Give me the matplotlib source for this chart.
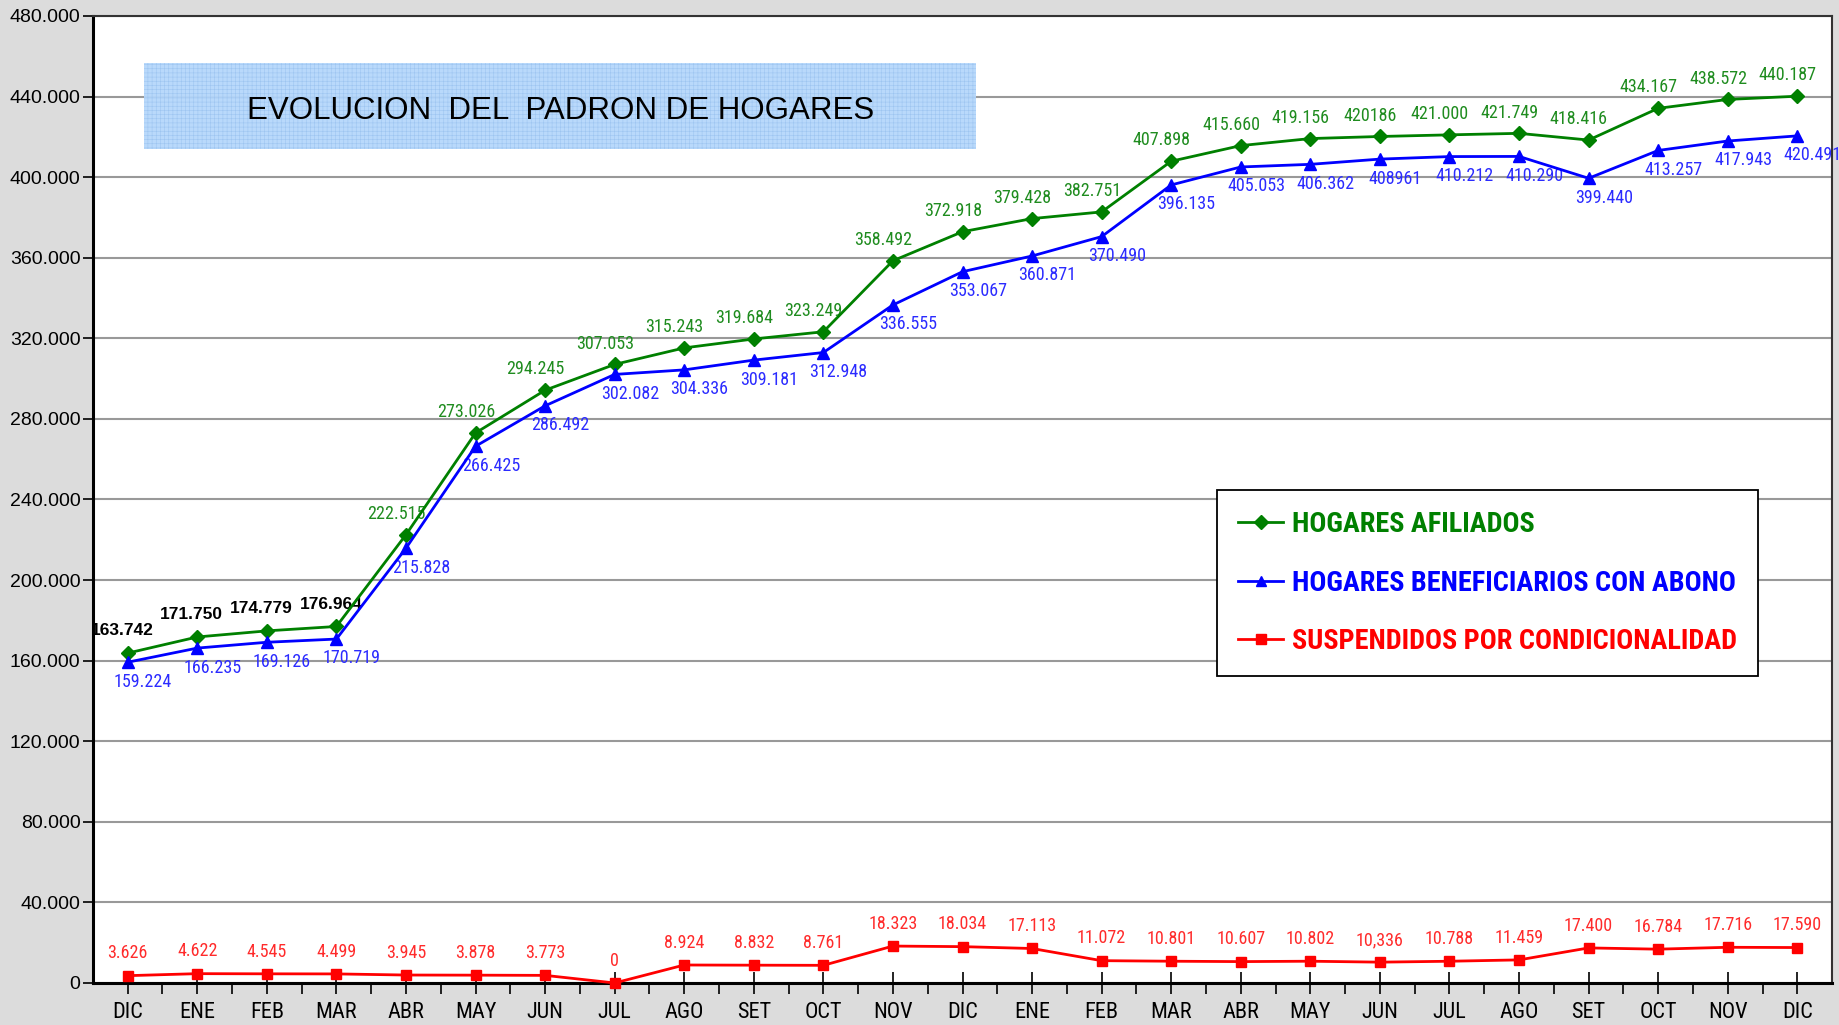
import matplotlib
matplotlib.use("Agg")
import matplotlib.pyplot as plt
from matplotlib import font_manager as fm
from matplotlib.patches import Rectangle
from matplotlib.ticker import FuncFormatter, MultipleLocator

# data
months = ["DIC", "ENE", "FEB", "MAR", "ABR", "MAY", "JUN", "JUL", "AGO", "SET", "OCT", "NOV",
          "DIC", "ENE", "FEB", "MAR", "ABR", "MAY", "JUN", "JUL", "AGO", "SET", "OCT", "NOV", "DIC"]
afiliados = [163742, 171750, 174779, 176964, 222515, 273026, 294245, 307053, 315243, 319684,
             323249, 358492, 372918, 379428, 382751, 407898, 415660, 419156, 420186, 421000,
             421749, 418416, 434167, 438572, 440187]
beneficiarios = [159224, 166235, 169126, 170719, 215828, 266425, 286492, 302082, 304336, 309181,
                 312948, 336555, 353067, 360871, 370490, 396135, 405053, 406362, 408961, 410212,
                 410290, 399440, 413257, 417943, 420491]
suspendidos = [3626, 4622, 4545, 4499, 3945, 3878, 3773, 0, 8924, 8832, 8761, 18323, 18034,
               17113, 11072, 10801, 10607, 10802, 10336, 10788, 11459, 17400, 16784, 17716, 17590]

# labels written differently in the source sheet
odd_labels = {("afil", 18): "420186", ("ben", 18): "408961", ("sus", 18): "10,336"}

REGULAR = ["Liberation Sans", "DejaVu Sans"]

# look for a narrow face, else fall back to a smaller regular one
names = {f.name for f in fm.fontManager.ttflist}
narrow = None
for cand in ["Liberation Sans Narrow", "Arial Narrow", "Roboto Condensed", "Open Sans Condensed",
             "DejaVu Sans Condensed"]:
    if cand in names:
        narrow = dict(family=cand)
        break
if narrow is None:
    cond = [f for f in fm.fontManager.ttflist if f.name == "DejaVu Sans" and f.stretch == "condensed"]
    if cond:
        narrow = dict(family="DejaVu Sans", stretch="condensed")
scale = 1.0
if narrow is None:
    narrow = dict(family="Liberation Sans")
    scale = 0.86
NARROW = narrow


def miles(v):
    return f"{int(v):,}".replace(",", ".")


fig = plt.figure(figsize=(18.4, 10.25), dpi=100, facecolor="#dcdcdc")
ax = fig.add_axes([0.0505, 0.041, 0.9452, 0.9434])
ax.set_facecolor("white")

x = list(range(len(months)))
ax.plot(x, afiliados, color="#008000", lw=2, marker="D", ms=7, label="HOGARES AFILIADOS", zorder=4)
ax.plot(x, beneficiarios, color="#0000ff", lw=2, marker="^", ms=9,
        label="HOGARES BENEFICIARIOS CON ABONO", zorder=4)
ax.plot(x, suspendidos, color="#ff0000", lw=2, marker="s", ms=7,
        label="SUSPENDIDOS POR CONDICIONALIDAD", zorder=4, clip_on=False)

lab = 13 * scale
# point labels
for i in x:
    t = odd_labels.get(("afil", i), miles(afiliados[i]))
    if i < 4:
        ax.annotate(t, (i, afiliados[i]), xytext=(-4, 16), textcoords="offset points",
                    ha="center", va="center", fontsize=12.5, fontweight="bold",
                    family=REGULAR, color="black")
    else:
        ax.annotate(t, (i, afiliados[i]), xytext=(-7, 15), textcoords="offset points",
                    ha="center", va="center", fontsize=lab, color="#1f8c1f", **NARROW)
    t = odd_labels.get(("ben", i), miles(beneficiarios[i]))
    ax.annotate(t, (i, beneficiarios[i]), xytext=(11, -14), textcoords="offset points",
                ha="center", va="center", fontsize=lab, color="#2b2bff", **NARROW)
    t = odd_labels.get(("sus", i), miles(suspendidos[i]))
    ax.annotate(t, (i, suspendidos[i]), xytext=(0, 16), textcoords="offset points",
                ha="center", va="center", fontsize=lab, color="#ff2b2b", **NARROW)

# axes
ax.set_xlim(-0.5, len(months) - 0.5)
ax.set_ylim(0, 480000)
ax.yaxis.set_major_locator(MultipleLocator(40000))
ax.yaxis.set_major_formatter(FuncFormatter(lambda v, p: miles(v)))
ax.set_xticks(x)
ax.set_xticklabels(months, fontsize=16 * scale, **NARROW)
ax.set_xticks([i + 0.5 for i in x[:-1]], minor=True)
ax.tick_params(axis="x", which="major", direction="inout", length=16, width=1.2, pad=6)
ax.tick_params(axis="x", which="minor", direction="out", length=8, width=1.2)
ax.tick_params(axis="y", direction="out", length=7, width=1.2, pad=2)
for lb in ax.get_yticklabels():
    lb.set_family(REGULAR)
    lb.set_fontsize(14)
ax.grid(axis="y", color="#999999", lw=1.5, zorder=0)
ax.set_axisbelow(True)
for s in ["left", "bottom"]:
    ax.spines[s].set_linewidth(2.2)
    ax.spines[s].set_color("black")
for s in ["top", "right"]:
    ax.spines[s].set_linewidth(1.5)
    ax.spines[s].set_color("#333333")

# title box
plt.rcParams["hatch.linewidth"] = 0.4
ax.add_patch(Rectangle((0.0293, 0.8625), 0.4785, 0.0889, transform=ax.transAxes,
                       facecolor="#b5d7fb", edgecolor="#9cc4f0", lw=0, hatch="++++",
                       alpha=0.95, zorder=2))
ax.text(0.269, 0.902, "EVOLUCION  DEL  PADRON DE HOGARES", transform=ax.transAxes,
        ha="center", va="center", fontsize=22.5, family=REGULAR, color="black", zorder=3)

prop = fm.FontProperties(weight="bold", size=20.3 * scale, **NARROW)
leg = ax.legend(loc="upper left", bbox_to_anchor=(0.6463, 0.5098), frameon=True,
                fancybox=False, edgecolor="black", framealpha=1, borderpad=0.75,
                labelspacing=1.12, handlelength=1.6, handletextpad=0.3, borderaxespad=0,
                labelcolor="linecolor", prop=prop)
leg.get_frame().set_linewidth(1.3)
for h in leg.legend_handles:
    h.set_markersize(7)

fig.savefig("out.png", dpi=100, facecolor=fig.get_facecolor())
